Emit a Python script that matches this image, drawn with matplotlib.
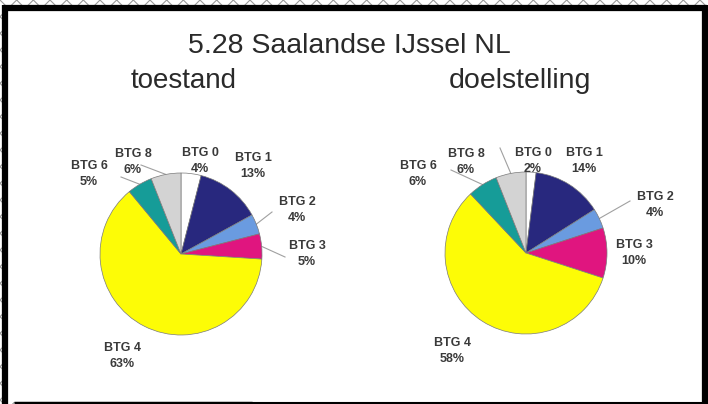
import numpy as np
import matplotlib.pyplot as plt
from matplotlib.patches import Rectangle

plt.rcParams["font.family"] = ["Liberation Sans", "DejaVu Sans"]
plt.rcParams["hatch.color"] = "#9a9a9a"
plt.rcParams["hatch.linewidth"] = 0.8

W, H = 708, 404

labels = ["BTG 0", "BTG 1", "BTG 2", "BTG 3", "BTG 4", "BTG 6", "BTG 8"]
toestand = [4, 13, 4, 5, 63, 5, 6]
doelstelling = [2, 14, 4, 10, 58, 6, 6]
colors = ["#ffffff", "#28287e", "#6a9be0", "#e0157f", "#fdfc06", "#169c98", "#d3d3d3"]


def Y(y):
    return H - y


fig = plt.figure(figsize=(W / 100, H / 100), dpi=100)
ax = fig.add_axes([0, 0, 1, 1])

# sketchy border outside the black frame
ax.add_patch(Rectangle((0, 0), W, H, facecolor="white", hatch="xx", edgecolor="#9a9a9a", lw=0, zorder=0))
ax.add_patch(Rectangle((7, Y(402)), 695, 391, facecolor="white", edgecolor="none", zorder=1))
ax.plot([5, 5], [Y(5), Y(404)], color="black", lw=4.5, zorder=2, solid_capstyle="butt")
ax.plot([704.5, 704.5], [Y(5), Y(404)], color="black", lw=4.5, zorder=2, solid_capstyle="butt")
ax.plot([3, 707], [Y(7.5), Y(7.5)], color="black", lw=4.5, zorder=2, solid_capstyle="butt")
ax.plot([14, 252], [Y(402.5), Y(402.5)], color="black", lw=2.5, zorder=2, solid_capstyle="butt")
ax.plot([252, 702], [Y(403), Y(403)], color="black", lw=1.5, zorder=2, solid_capstyle="butt")

ax.text(349, Y(53), "5.28 Saalandse IJssel NL", ha="center", va="baseline", fontsize=20.5, color="#2a2a2a", zorder=3)
ax.text(184, Y(88), "toestand", ha="center", va="baseline", fontsize=20, color="#2a2a2a", zorder=3)
ax.text(520, Y(88), "doelstelling", ha="center", va="baseline", fontsize=20.5, color="#2a2a2a", zorder=3)

# label centres and optional leader end points (pixel positions)
left_layout = {
    "BTG 0": ((200, 161), None),
    "BTG 1": ((253, 166), None),
    "BTG 2": ((297, 210), (272, 212)),
    "BTG 3": ((307, 254), (285, 257)),
    "BTG 4": ((122, 356), None),
    "BTG 6": ((89, 174), (121, 177)),
    "BTG 8": ((133, 162), (141, 165)),
}
right_layout = {
    "BTG 0": ((533, 161), None),
    "BTG 1": ((584, 161), None),
    "BTG 2": ((655, 205), (630, 201)),
    "BTG 3": ((634, 253), None),
    "BTG 4": ((452, 351), None),
    "BTG 6": ((418, 174), (451, 170)),
    "BTG 8": ((466, 162), (500, 148)),
}


def draw_pie(values, center, radius, layout):
    wedges, _ = ax.pie(values, colors=colors, startangle=90, counterclock=False,
                       center=(center[0], Y(center[1])), radius=radius, frame=True,
                       wedgeprops=dict(edgecolor="#7a7a7a", linewidth=0.5))
    for w in wedges:
        w.set_zorder(4)
    for name, val, w in zip(labels, values, wedges):
        (tx, ty), lead = layout[name]
        ax.text(tx, Y(ty), f"{name}\n{val}%", ha="center", va="center", fontsize=9,
                fontweight="bold", color="#3a3a3a", linespacing=1.5, zorder=5)
        if lead is not None:
            mid = np.deg2rad((w.theta1 + w.theta2) / 2)
            ex = center[0] + radius * np.cos(mid)
            ey = Y(center[1]) + radius * np.sin(mid)
            ax.plot([ex, lead[0]], [ey, Y(lead[1])], color="#a0a0a0", lw=0.8, zorder=3)


draw_pie(toestand, (181, 254), 81, left_layout)
draw_pie(doelstelling, (526, 253), 81, right_layout)

ax.set_xlim(0, W)
ax.set_ylim(0, H)
ax.set_aspect("auto")
ax.axis("off")

fig.savefig("out.png", dpi=100)
